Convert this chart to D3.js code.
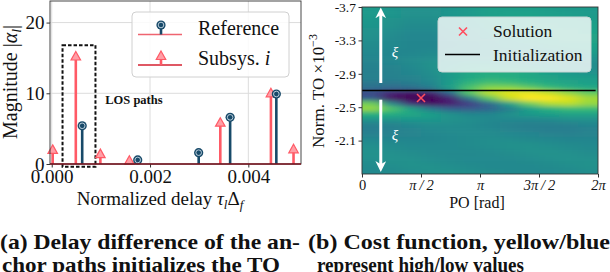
<!DOCTYPE html>
<html><head><meta charset="utf-8">
<script src="https://cdn.jsdelivr.net/npm/d3@7"></script>
<style>body{margin:0;background:#fff}svg{display:block}text{font-family:"Liberation Serif","DejaVu Serif",serif}</style>
</head><body>
<script>
// ---------- data: panel (a) ----------
const leftXTicks = [0, 0.002, 0.004];
const leftYTicks = [0, 10, 20];
const refDelay = [0.00062, 0.00175, 0.00299, 0.00363, 0.00457];
const refMag   = [5.4, 0.57, 1.6, 6.6, 9.9];
const subDelay = [0.00002, 0.00049, 0.00099, 0.00158, 0.00343, 0.00446, 0.00492];
const subMag   = [2.0, 15.2, 1.4, 0.47, 5.84, 10.0, 2.08];
const losBox = {x0: 0.00022, x1: 0.00089, y0: -0.4, y1: 16.8};

// ---------- data: panel (b) ----------
const rightXTicks = [0, Math.PI/2, Math.PI, 3*Math.PI/2, 2*Math.PI];
const rightXLabels = ["0", "π\u2009/\u20092", "π", "3π\u2009/\u20092", "2π"];
const rightYTicks = [-3.7, -3.3, -2.9, -2.5, -2.1];
const initTO = -2.70;
const initPO = [0, 6.22];
const solution = {po: Math.PI/2, to: -2.61};
// normalized cost (0 = low / blue, 1 = high / yellow); rows from TO=-3.7 to -1.7, cols from PO=0 to 2π
const costGrid = [
 [0.54,0.52,0.50,0.50,0.52,0.54,0.56,0.56,0.56,0.55,0.54,0.54],
 [0.54,0.52,0.50,0.50,0.52,0.54,0.56,0.57,0.57,0.56,0.55,0.54],
 [0.53,0.51,0.49,0.49,0.51,0.53,0.56,0.57,0.58,0.57,0.56,0.55],
 [0.52,0.50,0.48,0.48,0.50,0.52,0.55,0.57,0.58,0.58,0.57,0.56],
 [0.51,0.49,0.47,0.47,0.49,0.51,0.54,0.56,0.58,0.58,0.58,0.57],
 [0.50,0.48,0.46,0.46,0.48,0.50,0.53,0.55,0.57,0.58,0.58,0.58],
 [0.49,0.47,0.46,0.46,0.47,0.49,0.51,0.53,0.55,0.57,0.58,0.58],
 [0.48,0.47,0.46,0.46,0.47,0.48,0.50,0.52,0.53,0.55,0.56,0.57],
 [0.47,0.46,0.46,0.47,0.48,0.49,0.50,0.50,0.51,0.52,0.54,0.55],
 [0.46,0.46,0.47,0.48,0.50,0.51,0.51,0.50,0.50,0.50,0.51,0.52],
 [0.45,0.46,0.48,0.50,0.52,0.54,0.54,0.53,0.51,0.50,0.49,0.49],
 [0.44,0.45,0.47,0.50,0.54,0.57,0.58,0.57,0.55,0.52,0.50,0.49],
 [0.43,0.44,0.46,0.49,0.55,0.60,0.62,0.62,0.60,0.56,0.53,0.51],
 [0.44,0.44,0.45,0.48,0.54,0.60,0.63,0.62,0.60,0.58,0.56,0.55],
 [0.40,0.40,0.42,0.46,0.55,0.65,0.70,0.68,0.64,0.60,0.58,0.56],
 [0.36,0.34,0.36,0.42,0.56,0.72,0.82,0.82,0.76,0.68,0.63,0.60],
 [0.22,0.10,0.05,0.08,0.32,0.74,0.90,0.96,0.97,0.92,0.84,0.76],
 [0.30,0.05,0.00,0.00,0.10,0.40,0.74,0.92,1.00,1.00,0.95,0.86],
 [0.78,0.45,0.12,0.04,0.08,0.18,0.34,0.58,0.78,0.88,0.90,0.84],
 [0.84,0.72,0.56,0.40,0.30,0.28,0.32,0.42,0.56,0.64,0.68,0.68],
 [0.64,0.62,0.60,0.56,0.50,0.46,0.46,0.50,0.54,0.56,0.58,0.58],
 [0.52,0.52,0.53,0.53,0.51,0.49,0.47,0.47,0.47,0.48,0.50,0.51],
 [0.44,0.45,0.47,0.49,0.49,0.48,0.46,0.44,0.43,0.43,0.44,0.46],
 [0.42,0.43,0.45,0.47,0.48,0.48,0.47,0.45,0.43,0.42,0.42,0.44],
 [0.44,0.44,0.45,0.46,0.47,0.48,0.48,0.47,0.46,0.45,0.44,0.45],
 [0.47,0.46,0.46,0.46,0.47,0.48,0.49,0.49,0.48,0.47,0.46,0.46],
 [0.49,0.48,0.47,0.47,0.47,0.48,0.49,0.50,0.50,0.49,0.48,0.47],
 [0.50,0.49,0.48,0.47,0.47,0.47,0.48,0.49,0.50,0.50,0.49,0.48],
 [0.50,0.50,0.49,0.48,0.47,0.47,0.47,0.48,0.49,0.50,0.50,0.49],
 [0.49,0.50,0.50,0.49,0.48,0.47,0.47,0.47,0.48,0.49,0.50,0.50],
 [0.48,0.49,0.50,0.50,0.49,0.48,0.47,0.47,0.47,0.48,0.49,0.50],
 [0.47,0.48,0.49,0.50,0.50,0.49,0.48,0.47,0.47,0.47,0.48,0.49]
];
const arrowPO = 0.5;
const arrowUp = [-2.79, -3.63];
const arrowDown = [-2.59, -1.79];
const xiLabels = [{po: 0.88, to: -3.16}, {po: 0.88, to: -2.17}];

const captionA = ["(a) Delay difference of the an-", "chor paths initializes the TO"];
const captionB = ["(b) Cost function, yellow/blue", "represent high/low values"];

const RED = "#ff5a66", REDL = "#ff9ea6", BLUE = "#184a69";

const svg = d3.select("body").append("svg").attr("width", 610).attr("height", 272);
const defs = svg.append("defs");

// ================= Panel (a) =================
const xL = d3.scaleLinear().domain([-0.000035, 0.005072]).range([50, 301]);
const yL = d3.scaleLinear().domain([0, 23.05]).range([164, 1]);
const gA = svg.append("g");

gA.append("g").selectAll("line.gx").data(leftXTicks).join("line")
  .attr("x1", d => xL(d)).attr("x2", d => xL(d)).attr("y1", yL.range()[0]).attr("y2", yL.range()[1])
  .attr("stroke", "#dcdcdc").attr("stroke-width", 1);
gA.append("g").selectAll("line.gy").data(leftYTicks).join("line")
  .attr("x1", xL.range()[0]).attr("x2", xL.range()[1]).attr("y1", d => yL(d)).attr("y2", d => yL(d))
  .attr("stroke", "#dcdcdc").attr("stroke-width", 1);

const axXL = gA.append("g").attr("transform", `translate(0,${yL(0)})`)
  .call(d3.axisBottom(xL).tickValues(leftXTicks).tickFormat(d3.format(".3f")).tickSize(3.5).tickPadding(2));
const axYL = gA.append("g").attr("transform", `translate(${xL.range()[0]},0)`)
  .call(d3.axisLeft(yL).tickValues(leftYTicks).tickFormat(d3.format("d")).tickSize(3.5).tickPadding(2));
[axXL, axYL].forEach(a => {
  a.select(".domain").remove();
  a.selectAll("text").attr("font-size", 19).attr("fill", "#111").style("font-family", '"Liberation Serif",serif');
  a.selectAll("line").attr("stroke", "#333");
});

// dashed LOS box
gA.append("rect")
  .attr("x", xL(losBox.x0)).attr("y", yL(losBox.y1))
  .attr("width", xL(losBox.x1) - xL(losBox.x0)).attr("height", yL(losBox.y0) - yL(losBox.y1))
  .attr("fill", "none").attr("stroke", "#111").attr("stroke-width", 2).attr("stroke-dasharray", "3.5,2");
gA.append("text").attr("x", xL(0.00109)).attr("y", yL(8.45))
  .attr("font-size", 12.5).attr("font-weight", "bold").attr("fill", "#111").text("LOS paths");

function triPath(cx, cy, s) {
  return `M${cx},${cy - s} L${cx + s * 0.95},${cy + s * 0.7} L${cx - s * 0.95},${cy + s * 0.7} Z`;
}
function drawTri(g, cx, cy) {
  g.append("path").attr("d", triPath(cx, cy, 5)).attr("fill", REDL).attr("stroke", RED).attr("stroke-width", 1.2);
}
function drawCirc(g, cx, cy) {
  g.append("circle").attr("cx", cx).attr("cy", cy).attr("r", 4.6).attr("fill", BLUE);
  g.append("circle").attr("cx", cx).attr("cy", cy).attr("r", 2.8).attr("fill", "none").attr("stroke", "#c8d8e4").attr("stroke-width", 0.9);
}

// Subsys stems
const sub = subDelay.map((d, i) => ({d, m: subMag[i]}));
const ref = refDelay.map((d, i) => ({d, m: refMag[i]}));
const gStem = gA.append("g");
gStem.selectAll("line.sub").data(sub).join("line")
  .attr("x1", p => xL(p.d)).attr("x2", p => xL(p.d)).attr("y1", yL(0)).attr("y2", p => yL(p.m))
  .attr("stroke", RED).attr("stroke-width", 2.6);
sub.forEach(p => drawTri(gStem, xL(p.d), yL(p.m)));
gStem.selectAll("line.ref").data(ref).join("line")
  .attr("x1", p => xL(p.d)).attr("x2", p => xL(p.d)).attr("y1", yL(0)).attr("y2", p => yL(p.m))
  .attr("stroke", BLUE).attr("stroke-width", 2.6);
ref.forEach(p => drawCirc(gStem, xL(p.d), yL(p.m)));

// frame + baseline
gA.append("rect").attr("x", xL.range()[0]).attr("y", yL.range()[1])
  .attr("width", xL.range()[1] - xL.range()[0]).attr("height", yL.range()[0] - yL.range()[1])
  .attr("fill", "none").attr("stroke", "#333").attr("stroke-width", 0.9);
gA.append("line").attr("x1", xL.range()[0]).attr("x2", xL.range()[1]).attr("y1", yL(0)).attr("y2", yL(0))
  .attr("stroke", "#7d1420").attr("stroke-width", 1.6);

// legend (a)
const lgA = gA.append("g");
lgA.append("rect").attr("x", 132).attr("y", 12).attr("width", 157).attr("height", 65).attr("rx", 4)
  .attr("fill", "#fff").attr("fill-opacity", 0.85).attr("stroke", "#d0d0d0");
lgA.append("line").attr("x1", 138).attr("x2", 182).attr("y1", 34.5).attr("y2", 34.5).attr("stroke", "#ef6470").attr("stroke-width", 1.5);
lgA.append("line").attr("x1", 161).attr("x2", 161).attr("y1", 34.5).attr("y2", 25).attr("stroke", BLUE).attr("stroke-width", 2.6);
drawCirc(lgA, 161, 25);
lgA.append("text").attr("x", 198).attr("y", 35).attr("font-size", 20).attr("fill", "#111").text("Reference");
lgA.append("line").attr("x1", 138).attr("x2", 182).attr("y1", 65).attr("y2", 65).attr("stroke", "#d42030").attr("stroke-width", 1.5);
lgA.append("line").attr("x1", 161).attr("x2", 161).attr("y1", 65).attr("y2", 56).attr("stroke", RED).attr("stroke-width", 2.6);
drawTri(lgA, 161, 56);
const tSub = lgA.append("text").attr("x", 198).attr("y", 65).attr("font-size", 20).attr("fill", "#111");
tSub.append("tspan").text("Subsys. ");
tSub.append("tspan").attr("font-style", "italic").text("i");

// axis labels (a)
const yLab = gA.append("text").attr("transform", "translate(17,82) rotate(-90)").attr("text-anchor", "middle")
  .attr("font-size", 20).attr("fill", "#111");
yLab.append("tspan").text("Magnitude |");
yLab.append("tspan").attr("font-style", "italic").text("α");
yLab.append("tspan").attr("font-style", "italic").attr("font-size", 13.5).attr("dy", 4).text("l");
yLab.append("tspan").attr("dy", -4).text("|");
const xLab = gA.append("text").attr("x", 160).attr("y", 205).attr("text-anchor", "middle")
  .attr("font-size", 19).attr("fill", "#111");
xLab.append("tspan").text("Normalized delay ");
xLab.append("tspan").attr("font-style", "italic").text("τ");
xLab.append("tspan").attr("font-style", "italic").attr("font-size", 13).attr("dy", 4).text("l");
xLab.append("tspan").attr("dy", -4).text("Δ");
xLab.append("tspan").attr("font-style", "italic").attr("font-size", 13).attr("dy", 4).text("f");

// ================= Panel (b) =================
const xR = d3.scaleLinear().domain([0, 2 * Math.PI]).range([362, 598]);
const yR = d3.scaleLinear().domain([-3.7, -1.7]).range([7, 174]);
const color = d3.scaleSequential(d3.interpolateViridis).domain([0, 1]);
const nRows = costGrid.length, nCols = costGrid[0].length;
const poStep = (xR.domain()[1] - xR.domain()[0]) / nCols;
const toStep = (yR.domain()[1] - yR.domain()[0]) / nRows;

defs.append("clipPath").attr("id", "clipR").append("rect")
  .attr("x", xR.range()[0]).attr("y", yR.range()[0])
  .attr("width", xR.range()[1] - xR.range()[0]).attr("height", yR.range()[1] - yR.range()[0]);
defs.append("filter").attr("id", "blur").attr("filterUnits", "userSpaceOnUse")
  .attr("x", 300).attr("y", -40).attr("width", 340).attr("height", 260)
  .append("feGaussianBlur").attr("stdDeviation", "7 2.2");

const cells = [];
costGrid.forEach((row, r) => row.forEach((v, c) => cells.push({r, c, v})));
const gHeat = svg.append("g").attr("clip-path", "url(#clipR)").append("g").attr("filter", "url(#blur)");
gHeat.selectAll("rect").data(cells).join("rect")
  .attr("x", d => xR(d.c * poStep) - (d.c === 0 ? 30 : 0))
  .attr("y", d => yR(yR.domain()[0] + d.r * toStep) - (d.r === 0 ? 12 : 0))
  .attr("width", d => xR((d.c + 1) * poStep) - xR(d.c * poStep) + 0.6 + (d.c === 0 || d.c === nCols - 1 ? 30 : 0))
  .attr("height", d => yR(yR.domain()[0] + (d.r + 1) * toStep) - yR(yR.domain()[0] + d.r * toStep) + 0.6 + (d.r === 0 || d.r === nRows - 1 ? 12 : 0))
  .attr("fill", d => color(d.v));

const gB = svg.append("g");
// arrows
defs.append("marker").attr("id", "ah").attr("viewBox", "0 0 10 10").attr("refX", 5).attr("refY", 5)
  .attr("markerWidth", 3.6).attr("markerHeight", 3.6).attr("orient", "auto-start-reverse").attr("markerUnits", "strokeWidth")
  .append("path").attr("d", "M0,0 L10,5 L0,10 L3,5 Z").attr("fill", "#fff");
[arrowUp, arrowDown].forEach(a => {
  gB.append("line").attr("x1", xR(arrowPO)).attr("x2", xR(arrowPO)).attr("y1", yR(a[0])).attr("y2", yR(a[1]))
    .attr("stroke", "#fff").attr("stroke-width", 3).attr("marker-end", "url(#ah)");
});
gB.selectAll("text.xi").data(xiLabels).join("text")
  .attr("x", d => xR(d.po)).attr("y", d => yR(d.to)).attr("dy", "0.35em").attr("text-anchor", "middle")
  .attr("font-size", 15).attr("font-style", "italic").attr("fill", "#fff").text("ξ");

// init line & solution
gB.append("line").attr("x1", xR(initPO[0])).attr("x2", xR(initPO[1])).attr("y1", yR(initTO)).attr("y2", yR(initTO))
  .attr("stroke", "#000").attr("stroke-width", 1.6);
function drawX(g, cx, cy, s) {
  g.append("path").attr("d", `M${cx - s},${cy - s}L${cx + s},${cy + s}M${cx - s},${cy + s}L${cx + s},${cy - s}`)
    .attr("stroke", "#ff4d5e").attr("stroke-width", 1.6).attr("fill", "none");
}
drawX(gB, xR(solution.po), yR(solution.to), 4);

// axes (b)
const axXR = gB.append("g").attr("transform", `translate(0,${yR.range()[1]})`)
  .call(d3.axisBottom(xR).tickValues(rightXTicks).tickFormat((d, i) => rightXLabels[i]).tickSize(3.5).tickPadding(2.5));
const axYR = gB.append("g").attr("transform", `translate(${xR.range()[0]},0)`)
  .call(d3.axisLeft(yR).tickValues(rightYTicks).tickFormat(d => d.toFixed(1)).tickSize(3.5).tickPadding(2.5));
[axXR, axYR].forEach(a => {
  a.select(".domain").remove();
  a.selectAll("text").attr("fill", "#111").style("font-family", '"Liberation Serif",serif');
  a.selectAll("line").attr("stroke", "#333");
});
axYR.selectAll("text").attr("font-size", 13.5);
axXR.selectAll("text").attr("font-size", 14.5);
axXR.selectAll("text").filter((d, i) => i > 0).attr("font-style", "italic");
gB.append("rect").attr("x", xR.range()[0]).attr("y", yR.range()[0])
  .attr("width", xR.range()[1] - xR.range()[0]).attr("height", yR.range()[1] - yR.range()[0])
  .attr("fill", "none").attr("stroke", "#333").attr("stroke-width", 0.9);

// legend (b)
const lgB = gB.append("g");
lgB.append("rect").attr("x", 438).attr("y", 17).attr("width", 153).attr("height", 55).attr("rx", 4)
  .attr("fill", "#fff").attr("fill-opacity", 0.8).attr("stroke", "#c8d4d4");
drawX(lgB, 463, 31.5, 4);
lgB.append("text").attr("x", 493).attr("y", 37).attr("font-size", 17.5).attr("fill", "#111").text("Solution");
lgB.append("line").attr("x1", 445).attr("x2", 480).attr("y1", 54.5).attr("y2", 54.5).attr("stroke", "#000").attr("stroke-width", 1.6);
lgB.append("text").attr("x", 493).attr("y", 61).attr("font-size", 17.5).attr("fill", "#111").text("Initialization");

// axis labels (b)
const yRLab = gB.append("text").attr("transform", "translate(324,91) rotate(-90)").attr("text-anchor", "middle")
  .attr("font-size", 17).attr("fill", "#111");
yRLab.append("tspan").text("Norm. TO ×10");
yRLab.append("tspan").attr("font-size", 12).attr("dy", -7).text("−3");
gB.append("text").attr("x", 477).attr("y", 208).attr("text-anchor", "middle").attr("font-size", 16)
  .attr("fill", "#111").text("PO [rad]");

// ================= captions =================
const capG = svg.append("g").attr("font-weight", "bold").attr("font-size", 21).attr("fill", "#111");
capG.append("text").attr("x", 0).attr("y", 249).attr("textLength", 300).attr("lengthAdjust", "spacingAndGlyphs").text(captionA[0]);
capG.append("text").attr("x", 2).attr("y", 272).attr("textLength", 278).attr("lengthAdjust", "spacingAndGlyphs").text(captionA[1]);
capG.append("text").attr("x", 308).attr("y", 249).attr("textLength", 302).attr("lengthAdjust", "spacingAndGlyphs").text(captionB[0]);
capG.append("text").attr("x", 317).attr("y", 272).attr("textLength", 207).attr("lengthAdjust", "spacingAndGlyphs").text(captionB[1]);
</script>
</body></html>
